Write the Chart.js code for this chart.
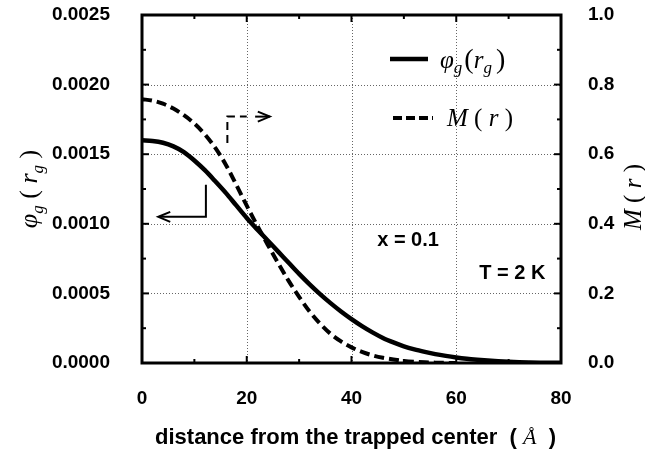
<!DOCTYPE html>
<html><head><meta charset="utf-8">
<script src="https://cdn.jsdelivr.net/npm/chart.js@4/dist/chart.umd.min.js"></script>
<style>html,body{margin:0;padding:0;background:#fff;}#wrap{width:645px;height:451px;}</style>
</head><body><div id="wrap"><canvas id="c" width="645" height="451"></canvas></div>
<script>
// ---- data ----
const distance = [0,2,4,6,8,10,12,14,16,18,20,22,24,26,28,30,32,34,36,38,40,42,44,46,48,50,52,54,56,58,60,62,64,66,68,70,72,74,76,78,80];
const phiG = [0.001600,0.001595,0.001582,0.001556,0.001515,0.001455,0.001385,0.001305,0.001222,0.001132,0.001042,0.000960,0.000880,0.000800,0.000720,0.000640,0.000565,0.000495,0.000430,0.000370,0.000315,0.000265,0.000220,0.000180,0.000148,0.000120,0.000098,0.000080,0.000064,0.000051,0.000040,0.000031,0.000024,0.000018,0.000013,0.000009,0.000006,0.000004,0.0000025,0.0000015,0.000001];
const magnetization = [0.758,0.754,0.745,0.731,0.712,0.688,0.657,0.618,0.570,0.512,0.452,0.395,0.340,0.287,0.236,0.190,0.148,0.113,0.084,0.062,0.045,0.032,0.022,0.015,0.010,0.006,0.0035,0.002,0.001,0.0005,0,null,null,null,null,null,null,null,null,null,null];
const xTickValues = [0,20,40,60,80];
const leftTickValues = [0,0.0005,0.0010,0.0015,0.0020,0.0025];
const rightTickValues = [0,0.2,0.4,0.6,0.8,1.0];
const annotationTexts = ['x = 0.1','T = 2 K'];

const SANS = '"Liberation Sans", Arial, sans-serif';
const BOLD = (s)=>'bold ' + s + 'px ' + SANS;
const SERIF_I = (s)=>'italic ' + s + 'px "Liberation Serif", "DejaVu Serif", serif';
const SERIF = (s)=>s + 'px "Liberation Serif", "DejaVu Serif", serif';

function drawParts(ctx, x, y, parts, align){
  let w = 0;
  parts.forEach(p=>{ctx.font=p.f; p.w=ctx.measureText(p.t).width; w+=p.w+(p.sp||0);});
  let cx = align==='center' ? x - w/2 : x;
  parts.forEach(p=>{ctx.font=p.f; ctx.fillText(p.t, cx, y+(p.dy||0)); cx+=p.w+(p.sp||0);});
}

const decor = {
  id:'decor',
  beforeDatasetsDraw(chart){
    const {ctx, chartArea:a, scales} = chart;
    ctx.save();
    ctx.strokeStyle = '#666'; ctx.lineWidth = 1; ctx.setLineDash([1,2]);
    xTickValues.slice(1,-1).forEach(v=>{
      const px = Math.round(scales.x.getPixelForValue(v))+0.5;
      ctx.beginPath(); ctx.moveTo(px,a.top); ctx.lineTo(px,a.bottom); ctx.stroke();
    });
    leftTickValues.slice(1,-1).forEach(v=>{
      const py = Math.round(scales.y.getPixelForValue(v))+0.5;
      ctx.beginPath(); ctx.moveTo(a.left,py); ctx.lineTo(a.right,py); ctx.stroke();
    });
    ctx.restore();
  },
  afterDraw(chart){
    const {ctx, chartArea:a, scales} = chart;
    const X = v=>scales.x.getPixelForValue(v), Y = v=>scales.y.getPixelForValue(v), Y2 = v=>scales.y2.getPixelForValue(v);
    ctx.save();
    ctx.strokeStyle='#000'; ctx.fillStyle='#000'; ctx.setLineDash([]);
    // inward ticks
    ctx.lineWidth = 2;
    for(let i=0;i<=8;i++){
      const px=X(i*10), L=(i%2===0)?7:4;
      ctx.beginPath(); ctx.moveTo(px,a.bottom); ctx.lineTo(px,a.bottom-L); ctx.moveTo(px,a.top); ctx.lineTo(px,a.top+L); ctx.stroke();
    }
    for(let i=0;i<=10;i++){
      const L=(i%2===0)?7:4;
      const py=Y(i*0.00025);
      ctx.beginPath(); ctx.moveTo(a.left,py); ctx.lineTo(a.left+L,py); ctx.stroke();
      const py2=Y2(i*0.1);
      ctx.beginPath(); ctx.moveTo(a.right,py2); ctx.lineTo(a.right-L,py2); ctx.stroke();
    }
    // frame
    ctx.lineWidth = 3;
    ctx.strokeRect(a.left, a.top, a.right-a.left, a.bottom-a.top);

    // legend (inside plot, top right)
    ctx.lineWidth = 4.5;
    ctx.beginPath(); ctx.moveTo(a.left+248,59); ctx.lineTo(a.left+286,59); ctx.stroke();
    ctx.lineWidth = 4;
    ctx.setLineDash([9,4]);
    ctx.beginPath(); ctx.moveTo(a.left+251,118); ctx.lineTo(a.left+291,118); ctx.stroke();
    ctx.setLineDash([]);
    ctx.textBaseline='alphabetic'; ctx.textAlign='left';
    drawParts(ctx, a.left+298, 68, [
      {t:'\u03C6', f:SERIF_I(25)}, {t:'g', f:SERIF_I(17), dy:5, sp:2},
      {t:'(', f:SERIF(28)}, {t:'r', f:SERIF_I(25)}, {t:'g', f:SERIF_I(17), dy:5, sp:4}, {t:')', f:SERIF(28)}
    ]);
    drawParts(ctx, a.left+305, 126, [
      {t:'M', f:SERIF_I(25)}, {t:' ( ', f:SERIF(25)}, {t:'r', f:SERIF_I(25)}, {t:' )', f:SERIF(25)}
    ]);

    // arrows
    ctx.lineWidth = 2;
    ctx.beginPath(); ctx.moveTo(X(12.2),Y(0.00128)); ctx.lineTo(X(12.2),Y(0.00105)); ctx.lineTo(X(3.3),Y(0.00105)); ctx.stroke();
    ctx.beginPath(); ctx.moveTo(X(3.1)+12,Y(0.00105)-5); ctx.lineTo(X(3.1),Y(0.00105)); ctx.lineTo(X(3.1)+12,Y(0.00105)+5); ctx.stroke();
    ctx.setLineDash([8,5]);
    ctx.beginPath(); ctx.moveTo(X(16.3),Y(0.00158)); ctx.lineTo(X(16.3),Y(0.00177)); ctx.lineTo(X(20.0),Y(0.00177)); ctx.stroke();
    ctx.setLineDash([]);
    ctx.beginPath(); ctx.moveTo(X(21.6),Y(0.00177)); ctx.lineTo(X(24.4),Y(0.00177)); ctx.stroke();
    ctx.beginPath(); ctx.moveTo(X(24.4)-12,Y(0.00177)-5); ctx.lineTo(X(24.4),Y(0.00177)); ctx.lineTo(X(24.4)-12,Y(0.00177)+5); ctx.stroke();

    // annotations
    ctx.font = BOLD(20); ctx.textAlign='center'; ctx.textBaseline='middle';
    ctx.fillText(annotationTexts[0], X(50.8), Y(0.00088));
    ctx.fillText(annotationTexts[1], X(70.7), Y(0.00064));

    // axis titles
    ctx.textBaseline='alphabetic'; ctx.textAlign='left';
    drawParts(ctx, (a.left+a.right)/2 + 4, 444, [
      {t:'distance from the trapped center  ( ', f:BOLD(22)},
      {t:'\u00C5', f:SERIF_I(22)},
      {t:'  )', f:BOLD(22)}
    ], 'center');

    ctx.save(); ctx.translate(37, (a.top+a.bottom)/2); ctx.rotate(-Math.PI/2);
    drawParts(ctx, 0, 0, [
      {t:'\u03C6', f:SERIF_I(26)}, {t:'g', f:SERIF_I(17), dy:6},
      {t:' ( ', f:SERIF(26)}, {t:'r', f:SERIF_I(26)}, {t:'g', f:SERIF_I(17), dy:6}, {t:' )', f:SERIF(26)}
    ], 'center');
    ctx.restore();

    ctx.save(); ctx.translate(641, (a.top+a.bottom)/2+8); ctx.rotate(-Math.PI/2);
    drawParts(ctx, 0, 0, [
      {t:'M', f:SERIF_I(25)}, {t:' ( ', f:SERIF(25)}, {t:'r', f:SERIF_I(25)}, {t:' )', f:SERIF(25)}
    ], 'center');
    ctx.restore();
    ctx.restore();
  }
};

const tickFont = {family:SANS, size:19, weight:'bold'};
function fixV(w){ return s=>{ s.width = w; s.paddingTop = 0; s.paddingBottom = 0; }; }
new Chart(document.getElementById('c'), {
  type:'line',
  data:{
    datasets:[
      {label:'phi_g(r_g)', data:distance.map((x,i)=>({x, y:phiG[i]})), yAxisID:'y', borderColor:'#000', borderWidth:4.5, pointRadius:0, cubicInterpolationMode:'monotone', fill:false},
      {label:'M(r)', data:distance.map((x,i)=>({x, y:magnetization[i]})), yAxisID:'y2', borderColor:'#000', borderWidth:4, borderDash:[10,5], pointRadius:0, cubicInterpolationMode:'monotone', fill:false, spanGaps:false}
    ]
  },
  options:{
    responsive:false, animation:false, devicePixelRatio:1,
    layout:{padding:{top:15, left:0, right:0, bottom:0}, autoPadding:false},
    plugins:{legend:{display:false}, tooltip:{enabled:false}, title:{display:false}},
    scales:{
      x:{type:'linear', position:'bottom', min:0, max:80,
         afterBuildTicks:s=>{s.ticks = xTickValues.map(v=>({value:v}));},
         ticks:{font:tickFont, color:'#000', padding:24, maxRotation:0, callback:v=>String(v)},
         grid:{display:false, drawTicks:false}, border:{display:false},
         afterFit:s=>{s.height = 88; s.paddingLeft = 0; s.paddingRight = 0;}},
      y:{type:'linear', position:'left', min:0, max:0.0025,
         afterBuildTicks:s=>{s.ticks = leftTickValues.map(v=>({value:v}));},
         ticks:{font:tickFont, color:'#000', padding:32, callback:v=>Number(v).toFixed(4)},
         grid:{display:false, drawTicks:false}, border:{display:false},
         afterFit:fixV(142)},
      y2:{type:'linear', position:'right', min:0, max:1,
         afterBuildTicks:s=>{s.ticks = rightTickValues.map(v=>({value:v}));},
         ticks:{font:tickFont, color:'#000', padding:27, callback:v=>Number(v).toFixed(1)},
         grid:{display:false, drawTicks:false}, border:{display:false},
         afterFit:fixV(84)}
    }
  },
  plugins:[decor]
});
</script></body></html>
